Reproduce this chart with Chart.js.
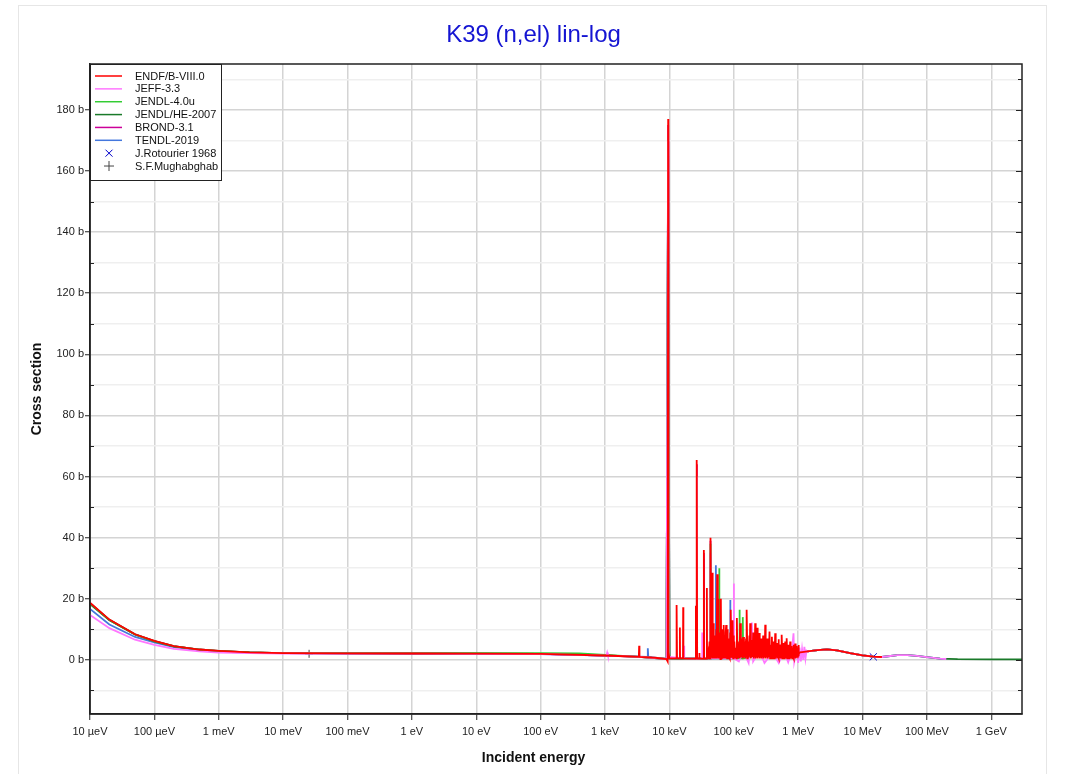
<!DOCTYPE html>
<html><head><meta charset="utf-8">
<script src="https://cdn.jsdelivr.net/npm/chart.js@4"></script>
<style>
html,body{margin:0;padding:0;background:#fff;}
body{width:1067px;height:774px;overflow:hidden;position:relative;}
#frame{position:absolute;left:18px;top:5px;width:1029px;height:800px;border:1px solid #e6e6e6;box-sizing:border-box;}
#wrap{position:absolute;left:0;top:0;width:1067px;height:774px;}
</style></head><body>
<div id="frame"></div>
<div id="wrap"><canvas id="c" width="1067" height="774"></canvas></div>
<script>
// ---------------- DATA (energy in eV, cross section in barns) ----------------
const titleText = 'K39 (n,el) lin-log';
const xAxisTitle = 'Incident energy';
const yAxisTitle = 'Cross section';
const xTickValues = [1e-5,1e-4,1e-3,1e-2,1e-1,1,10,100,1e3,1e4,1e5,1e6,1e7,1e8,1e9];
const xTickLabels = ['10 µeV','100 µeV','1 meV','10 meV','100 meV','1 eV','10 eV','100 eV','1 keV','10 keV','100 keV','1 MeV','10 MeV','100 MeV','1 GeV'];
const yTickValues = [-10,0,10,20,30,40,50,60,70,80,90,100,110,120,130,140,150,160,170,180,190];

const endf = [[1e-5,18.7],[2e-5,13.2],[5e-5,8.4],[1e-4,6.2],[2e-4,4.5],[5e-4,3.4],[1e-3,2.95],[3e-3,2.45],[1e-2,2.25],[0.1,2.15],[1,2.1],[10,2.05],[100,1.95],[1000,1.45],[2000,1.2],
[3350,1.0],[3390,4.6],[3430,1.0],[6000,0.7],[9000,0.3],[9400,-0.5],[9570,177],[9650,2.5],[10000,0.5],
[12700,0.5],[12800,3.6],[12900,0.5],[13000,0.5],[13060,18],[13150,0.5],[14450,0.5],[14550,10.6],[14650,0.5],[16250,0.5],[16370,17.2],[16500,0.5],
[25500,0.4],[25800,17.7],[26100,0.4],[26400,0.4],[26700,65.4],[27000,0.4],[29000,0.4],[29200,2.3],[29400,0.4],
[34000,0.4],[34300,36],[34600,0.4],[37900,0.4],[38200,23.5],[38500,0.4],
[40000,2.5],[41000,0.3],[42000,6],[42800,0.5],[43500,40],[44500,1],[45300,9],[46200,28.5],[47000,0.5],[47700,7],[48500,12],[49200,0.5],[50000,5],[51000,0.5],[52000,8],[52800,0.5],[53500,10],[54300,0.5],[55200,28],[56500,1],[57100,12],[57800,20],[58400,0.5],[59000,8],[60000,0.5],[61000,9],[62000,0.3],[63000,20],[63800,0.5],[64500,8],[65500,0.5],[66200,10],[67000,7],[67800,0.5],[68500,6],[69300,0.5],[70200,11.4],[71000,0.8],[72000,8],[72700,1],[73500,5],[74500,0.5],[75300,9],[76200,11.4],[77100,1],[78000,7],[79000,0.5],[80000,10],[81000,6],[82000,0.5],[83000,7],[84500,1],[86000,4],[87000,0.5],[88000,9],[89000,1],[90200,16.4],[91500,1],[93000,7],[94000,1],[95000,5],[96000,1],[96900,13],[98000,0.5],[99000,8],
[100500,0.8],[102000,6],[105000,0.8],[108000,4],[110000,0.5],[111700,13.7],[114000,0.8],[116000,6],[118000,1],[121000,5],[123000,0.5],[125700,12],[129000,0.8],[131000,6],[133000,1],[136000,7],[138000,0.5],[140000,7.5],[144000,0.8],[146000,5],[148000,1],[150000,6],[152000,0.5],[155000,7],[157000,1],[159800,16.4],[163000,0.5],[165000,6],[167000,1],[169000,5],[171000,1],[175000,8],[177000,1],[179800,12],[184000,0.5],[187000,5],[190000,1],[193000,6.5],[196000,1],[200000,9],[204000,0.5],[207000,5],[211000,1],[215000,12],[219000,0.5],[222000,6],[226000,1],[231000,10.5],[235000,0.5],[239000,5],[243000,1],[248000,8.8],[253000,0.5],[257000,6],[262000,1],[267000,7],[271000,0.5],[276000,5.5],[281000,1],[286000,8],[291000,0.5],[297000,6],[302000,1],[308000,11.5],[313000,0.5],[319000,6],[324000,1],[330000,7],[337000,0.5],[344000,5],[351000,1],[359000,9.3],[366000,0.5],[374000,5],[382000,1],[391000,7.6],[397000,0.5],[404000,5],[410000,1],[417000,6],[423000,0.5],[428000,4.5],[434000,1],[440000,8.7],[448000,0.5],[456000,5],[464000,1],[472000,5.5],[478000,0.5],[483000,4.5],[489000,1],[495000,6.8],[503000,0.5],[510000,4.5],[518000,1],[526000,5],[534000,0.5],[542000,4.5],[550000,1],[559000,8.2],[568000,0.5],[577000,4.5],[586000,1],[596000,5.5],[604000,0.5],[612000,4],[621000,1],[630000,6],[639000,0.5],[648000,4.5],[658000,1],[668000,7.1],[679000,0.5],[690000,4.5],[701000,1],[713000,5],[722000,0.5],[732000,4.5],[742000,1],[752000,6],[763000,0.5],[775000,4.5],[787000,1],[800000,4.5],[811000,0.5],[823000,4],[835000,1],[847000,5],[859000,0.5],[872000,4],[886000,1],[900000,5.4],[914000,0.5],[928000,4],[942000,1],[957000,4.5],[971000,1],[985000,4],[998000,1.5],[1012000,4.9],[1026000,1.8],[1040000,2.3],
[1080000,2.5],[1500000,2.9],[2000000,3.2],[2800000,3.45],[4000000,3.1],[6400000,2.2],[1e7,1.5],[1.48e7,1.05],[2e7,0.95]];

const jeff = [[1e-5,14.7],[2e-5,10.4],[5e-5,6.6],[1e-4,4.9],[2e-4,3.6],[5e-4,2.8],[1e-3,2.4],[3e-3,2.2],[1e-2,2.1],[0.1,2.05],[1,2.05],[10,2.0],[100,1.9],[1000,1.4],[1050,1.4],[1080,2.4],[1110,1.4],[3000,1.1],[9000,0.3],[9570,170],[9700,1],[16800,0.5],[16900,4.6],[17000,0.5],[26600,0.4],[26700,60],[26800,0.4],[32200,0.5],[32300,9],[32400,0.5],[43400,0.5],[43500,35],[43600,0.5],
[100000,0.5],[100400,25],[101000,0.5],[120000,-0.5],[140000,3],[170000,-1],[191000,12.2],[200000,-0.5],[250000,3],[300000,-1],[400000,2.5],[500000,-1],[600000,3],[700000,-0.8],[800000,3],[847000,8.7],[870000,-0.5],[950000,3.5],[1000000,-1],[1050000,4],[1100000,-0.5],[1150000,3.5],[1200000,0],[1250000,4.3],[1300000,0.5],[1350000,3],[1400000,2.7],
[1500000,2.9],[2000000,3.2],[2800000,3.45],[4000000,3.1],[6400000,2.2],[1e7,1.5],[1.48e7,1.05],[2e7,0.95],[2.5e7,1.2],[3.5e7,1.55],[5e7,1.55],[7e7,1.3],[1e8,0.9],[1.6e8,0.4],[2e8,0.3]];

const jendl4 = [[1e-5,18.6],[2e-5,13.1],[5e-5,8.35],[1e-4,6.15],[2e-4,4.5],[5e-4,3.4],[1e-3,2.95],[3e-3,2.45],[1e-2,2.25],[0.1,2.2],[1,2.2],[10,2.2],[100,2.25],[400,2.1],[1000,1.6],[3000,1.1],[9000,0.3],[9570,170],[10000,0.5],[26600,0.4],[26700,60],[26800,0.4],[43400,0.5],[43500,38],[43600,0.5],[59200,0.5],[59300,30],[60000,0.5],[122500,0.5],[122700,16.4],[124000,0.5],[137500,0.5],[138000,14],[140000,0.5],[300000,2],[1000000,2.4],[1500000,2.9],[2000000,3.2],[2800000,3.45],[4000000,3.1],[6400000,2.2],[1e7,1.5],[1.48e7,1.05],[2e7,0.95]];

const jendlhe = [[1e-5,18.3],[2e-5,13.0],[5e-5,8.3],[1e-4,6.1],[2e-4,4.45],[5e-4,3.35],[1e-3,2.9],[3e-3,2.45],[1e-2,2.25],[0.1,2.15],[1,2.1],[10,2.05],[100,1.95],[1000,1.45],[3000,1.1],[9000,0.3],[9570,165],[10000,0.5],[26600,0.4],[26700,58],[26800,0.4],[43400,0.5],[43500,35],[43600,0.5],[300000,2],[1000000,2.4],[1500000,2.9],[2000000,3.2],[2800000,3.45],[4000000,3.1],[6400000,2.2],[1e7,1.5],[1.48e7,1.05],[2e7,0.95],[2.5e7,1.2],[3.5e7,1.55],[5e7,1.55],[7e7,1.3],[1e8,0.9],[1.6e8,0.45],[3e8,0.25],[1e9,0.2],[3e9,0.2]];

const brond = [[1e-5,18.6],[2e-5,13.1],[5e-5,8.35],[1e-4,6.15],[2e-4,4.5],[5e-4,3.4],[1e-3,2.95],[3e-3,2.45],[1e-2,2.25],[0.1,2.15],[1,2.1],[10,2.05],[100,1.95],[1000,1.45],[3000,1.1],[9000,0.3],[9570,175],[10000,0.5],[26600,0.4],[26700,64],[26800,0.4],[34200,0.4],[34300,35],[34400,0.4],[43400,0.5],[43500,39],[43600,0.5],[300000,2],[1000000,2.4],[1500000,2.9],[2000000,3.2],[2800000,3.45],[4000000,3.1],[6400000,2.2],[1e7,1.5],[1.48e7,1.05],[2e7,0.95]];

const tendl = [[1e-5,16.7],[2e-5,11.6],[5e-5,7.5],[1e-4,5.7],[2e-4,4.2],[5e-4,3.1],[1e-3,2.7],[3e-3,2.35],[1e-2,2.2],[0.1,2.1],[1,2.05],[10,2.0],[100,1.9],[1000,1.4],[4550,1.0],[4620,3.8],[4700,1.0],[9000,0.3],[9570,170],[10000,0.5],[26600,0.4],[26700,60],[26800,0.4],[34200,0.4],[34300,33],[34400,0.4],[52600,0.5],[52700,31],[53500,0.5],[87700,0.5],[87900,19.6],[89000,0.5],[300000,2],[1000000,2.4],[1500000,2.9],[2000000,3.2],[2800000,3.45],[4000000,3.1],[6400000,2.2],[1e7,1.5],[1.48e7,1.05],[2e7,0.95],[2.5e7,1.2],[3.5e7,1.55],[5e7,1.55],[7e7,1.3],[1e8,0.9],[1.6e8,0.4],[2e8,0.3]];

const rotourier = [[1.47e7,1.0]];
const mughabghab = [[0.0253,2.0]];

const lineSeries = [
  {label:'ENDF/B-VIII.0', data:endf, color:'#ff0000'},
  {label:'JEFF-3.3', data:jeff, color:'#ff77ff'},
  {label:'JENDL-4.0u', data:jendl4, color:'#33cc33'},
  {label:'JENDL/HE-2007', data:jendlhe, color:'#1a7a2a'},
  {label:'BROND-3.1', data:brond, color:'#cc0099'},
  {label:'TENDL-2019', data:tendl, color:'#4477dd'}
];
const markerSeries = [
  {label:'J.Rotourier 1968', data:rotourier, color:'#0000cc', style:'crossRot', r:5},
  {label:'S.F.Mughabghab', data:mughabghab, color:'#444444', style:'cross', r:4}
];

// ---------------- CHART ----------------
const FONT = "'Liberation Sans', Arial, sans-serif";
Chart.defaults.font.family = FONT;
const toXY = arr => arr.map(p => ({x:p[0], y:p[1]}));
const datasets = lineSeries.map(s => ({
  label:s.label, data:toXY(s.data), borderColor:s.color, backgroundColor:s.color,
  borderWidth:1.8, pointRadius:0, showLine:true, fill:false, tension:0
})).concat(markerSeries.map(s => ({
  label:s.label, data:toXY(s.data), borderColor:s.color, backgroundColor:s.color,
  showLine:false, pointStyle:s.style, pointRadius:s.r, borderWidth:1, _marker:true
})));

const framePlugin = {
  id:'frameTicks',
  afterDatasetsDraw(chart){
    const ctx = chart.ctx, a = chart.chartArea, y = chart.scales.y;
    ctx.save();
    ctx.strokeStyle = '#222'; ctx.lineWidth = 1.5;
    ctx.strokeRect(a.left, a.top, a.right - a.left, a.bottom - a.top);
    ctx.lineWidth = 1;
    yTickValues.forEach(v => {
      const py = Math.round(y.getPixelForValue(v)) + 0.5;
      const len = (v % 20 === 0) ? 6 : 4;
      ctx.beginPath();
      ctx.moveTo(a.right, py); ctx.lineTo(a.right - len, py);
      if (v % 20 !== 0) { ctx.moveTo(a.left, py); ctx.lineTo(a.left + len, py); }
      ctx.stroke();
    });
    ctx.restore();
  },
  afterDraw(chart){
    const ctx = chart.ctx, a = chart.chartArea;
    ctx.save();
    // titles
    ctx.textAlign = 'center'; ctx.textBaseline = 'middle';
    ctx.fillStyle = '#1414d2';
    ctx.font = '24px ' + FONT;
    ctx.fillText(titleText, 533.5, 35);
    ctx.fillStyle = '#111';
    ctx.font = 'bold 14px ' + FONT;
    ctx.fillText(xAxisTitle, 533.5, 758);
    ctx.translate(37, (a.top + a.bottom) / 2);
    ctx.rotate(-Math.PI / 2);
    ctx.fillText(yAxisTitle, 0, 0);
    ctx.restore();
    // legend box
    ctx.save();
    const x0 = a.left, y0 = a.top, w = 132, h = 116, step = 12.86;
    ctx.fillStyle = '#fff'; ctx.fillRect(x0, y0, w, h);
    ctx.strokeStyle = '#222'; ctx.lineWidth = 1;
    ctx.strokeRect(x0 + 0.5, y0 + 0.5, w - 1, h);
    ctx.font = '11px ' + FONT;
    ctx.textAlign = 'left'; ctx.textBaseline = 'middle';
    chart.data.datasets.forEach((ds, i) => {
      const cy = y0 + 12 + i * step;
      ctx.strokeStyle = ds.borderColor;
      if (!ds._marker) {
        ctx.lineWidth = 1.5;
        ctx.beginPath(); ctx.moveTo(x0 + 5, cy); ctx.lineTo(x0 + 32, cy); ctx.stroke();
      } else {
        ctx.lineWidth = 1;
        const cx = x0 + 19;
        ctx.beginPath();
        if (ds.pointStyle === 'crossRot') {
          ctx.moveTo(cx - 3.5, cy - 3.5); ctx.lineTo(cx + 3.5, cy + 3.5);
          ctx.moveTo(cx - 3.5, cy + 3.5); ctx.lineTo(cx + 3.5, cy - 3.5);
        } else {
          ctx.moveTo(cx - 5, cy); ctx.lineTo(cx + 5, cy);
          ctx.moveTo(cx, cy - 5); ctx.lineTo(cx, cy + 5);
        }
        ctx.stroke();
      }
      ctx.fillStyle = '#111';
      ctx.fillText(ds.label, x0 + 45, cy + 0.5);
    });
    ctx.restore();
  }
};

new Chart(document.getElementById('c'), {
  type:'scatter',
  data:{datasets},
  plugins:[framePlugin],
  options:{
    responsive:false, animation:false, devicePixelRatio:1,
    layout:{padding:{left:0, right:45, top:64, bottom:0}},
    plugins:{legend:{display:false}, tooltip:{enabled:false}, title:{display:false}},
    scales:{
      x:{type:'logarithmic', min:1e-5, max:3e9, position:'bottom',
        afterBuildTicks: s => { s.ticks = xTickValues.map(v => ({value:v})); },
        afterFit: s => { s.height = 60; },
        ticks:{autoSkip:false, maxRotation:0, minRotation:0, color:'#222', font:{size:11}, padding:5,
          callback:(v, i) => xTickLabels[i]},
        grid:{color:'#d4d4d4', lineWidth:1.5, tickColor:'#222', tickLength:6, tickWidth:1},
        border:{color:'#222', width:1.5},
        title:{display:false, text:xAxisTitle}
      },
      y:{min:-17.7, max:195,
        afterBuildTicks: s => { s.ticks = yTickValues.map(v => ({value:v})); },
        afterFit: s => { s.width = 90; },
        ticks:{color:'#222', font:{size:11}, padding:1, callback:v => (v % 20 === 0 ? v + ' b' : '')},
        grid:{color: c => (c.tick && c.tick.value % 20 === 0) ? '#d4d4d4' : '#efefef', lineWidth:1.5,
          tickColor: c => (c.tick && c.tick.value % 20 === 0) ? '#222' : 'rgba(0,0,0,0)', tickLength:5, tickWidth:1},
        border:{color:'#222', width:1.5},
        title:{display:false, text:yAxisTitle}
      }
    }
  }
});
</script>
</body></html>
